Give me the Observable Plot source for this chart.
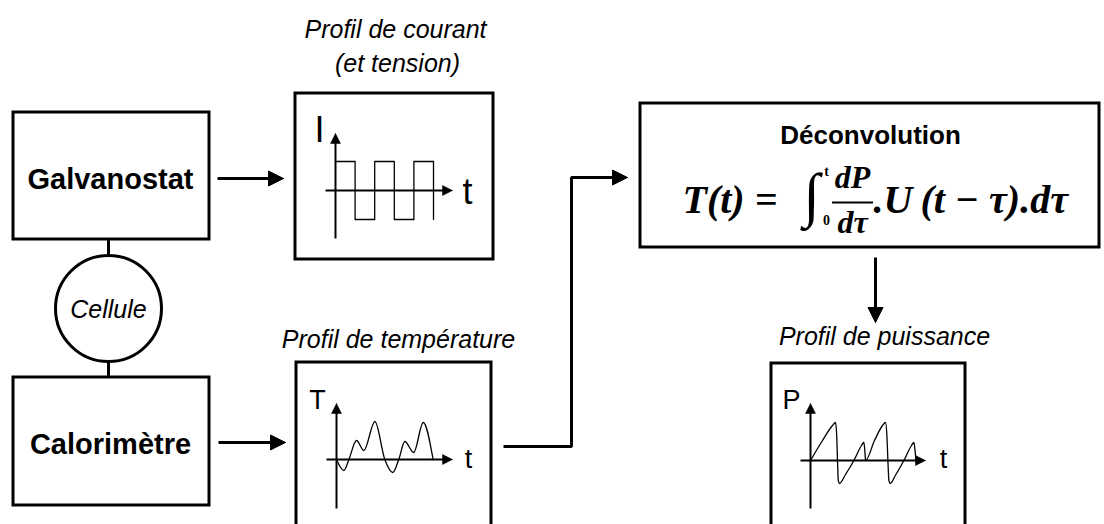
<!DOCTYPE html>
<html><head><meta charset="utf-8">
<script src="https://cdn.jsdelivr.net/npm/d3@7"></script>
<script src="https://cdn.jsdelivr.net/npm/@observablehq/plot@0.6"></script>
<style>
html,body{margin:0;padding:0;background:#fff;overflow:hidden}
#chart svg{display:block}
</style></head>
<body><div id="chart"></div>
<script>
// ---------------- data ----------------
const blockLabels = ["Galvanostat", "Calorimètre"];
const cellLabel = "Cellule";
const panelTitles = ["Profil de courant", "(et tension)", "Profil de température", "Profil de puissance"];
const deconvTitle = "Déconvolution";
const axisNames = [["I", "t"], ["T", "t"], ["P", "t"]];

// current (square wave): switching times and levels
const currentTimes = [0, 1, 2, 3, 4, 5];
const currentLevels = [1, -1, 1, -1, 1, -1];

// temperature response
const tempTimes  = [0, 0.38, 0.64, 1.03, 1.41, 1.98, 2.49, 2.90, 3.21, 3.52, 3.98, 4.47, 4.98];
const tempValues = [0, -1.1, 0, 1.9, 0.9, 3.8, 0, -1.3, 0, 1.8, 0.7, 3.7, 0];

// power profile
const powerTimes  = [0, 0.6, 1.1, 1.25, 1.31, 1.35, 1.39, 1.45, 1.75, 2.17, 2.55, 2.67, 2.72, 2.75,
                     3.2, 3.6, 3.75, 3.82, 3.87, 3.92, 3.98, 4.27, 4.67, 5.05, 5.17, 5.23, 5.28];
const powerValues = [0, 2.0, 3.5, 3.8, 2.5, 0, -2.0, -2.3, -1.4, 0, 1.5, 1.8, 0.9, 0,
                     2.0, 3.5, 3.8, 2.5, 0, -2.0, -2.3, -1.4, 0, 1.5, 1.8, 0.9, 0];

// ---------------- layout ----------------
const boxes = [
  {id: "galva",   x1: 13,  y1: 112, x2: 209,  y2: 239},
  {id: "calo",    x1: 13,  y1: 377, x2: 209,  y2: 505},
  {id: "current", x1: 295, y1: 93,  x2: 493,  y2: 259},
  {id: "temp",    x1: 296, y1: 362, x2: 491,  y2: 534},
  {id: "deconv",  x1: 640, y1: 103, x2: 1099, y2: 247},
  {id: "power",   x1: 771, y1: 363, x2: 965,  y2: 534}
];
const cell = {x: 108, y: 308, r: 53};
const stem = {x: 108, y1: 239, y2: 377};

const panels = [
  {ox: 335, oy: 190, sx: 19.6, sy: 29, ax: [325, 452], ay: [238, 133], size: 36, lx: 319, ly: 141, tx: 467, ty: 203},
  {ox: 336, oy: 459, sx: 19.4, sy: 10, ax: [326, 452], ay: [508, 403], size: 27, lx: 317, ly: 408, tx: 468, ty: 467},
  {ox: 810, oy: 460, sx: 20,   sy: 10, ax: [800, 925], ay: [508, 403], size: 27, lx: 791, ly: 408, tx: 943, ty: 467}
];

const flows = [
  [[217, 178], [283, 178]],
  [[218, 442], [285, 442]],
  [[503, 446], [571, 446], [571, 177], [627, 177]],
  [[875, 257], [875, 322]]
];

// ---------------- helpers ----------------
function headPoly(id, tip, prev, len, half) {
  const dx = tip[0] - prev[0], dy = tip[1] - prev[1];
  const L = Math.hypot(dx, dy), ux = dx / L, uy = dy / L;
  const bx = tip[0] - ux * len, by = tip[1] - uy * len;
  const px = -uy, py = ux;
  return [
    {id, x: tip[0], y: tip[1]},
    {id, x: bx + px * half, y: by + py * half},
    {id, x: bx - px * half, y: by - py * half},
    {id, x: tip[0], y: tip[1]}
  ];
}
function shaft(id, pts, len) {
  const n = pts.length, tip = pts[n - 1], prev = pts[n - 2];
  const dx = tip[0] - prev[0], dy = tip[1] - prev[1];
  const L = Math.hypot(dx, dy);
  const end = [tip[0] - dx / L * (len - 2), tip[1] - dy / L * (len - 2)];
  return pts.slice(0, n - 1).concat([end]).map(([x, y]) => ({id, x, y}));
}

const flowLines = flows.flatMap((p, i) => shaft("f" + i, p, 15));
const flowHeads = flows.flatMap((p, i) => headPoly("h" + i, p[p.length - 1], p[p.length - 2], 15, 7.5));

const axisLines = panels.flatMap((p, i) => [
  [{id: "ax" + i, x: p.ax[0], y: p.oy}, {id: "ax" + i, x: p.ax[1] - 8, y: p.oy}],
  [{id: "ay" + i, x: p.ox, y: p.ay[0]}, {id: "ay" + i, x: p.ox, y: p.ay[1] + 8}]
]).flat();
const axisHeads = panels.flatMap((p, i) => [
  ...headPoly("hx" + i, [p.ax[1], p.oy], [p.ax[0], p.oy], 10, 5),
  ...headPoly("hy" + i, [p.ox, p.ay[1]], [p.ox, p.ay[0]], 10, 5)
]);

const currentData = currentTimes.map((t, i) => ({t, v: currentLevels[i]}));
const tempData = tempTimes.map((t, i) => ({t, v: tempValues[i]}));
const powerData = powerTimes.map((t, i) => ({t, v: powerValues[i]}));

const signal = (data, p, curve) => Plot.line(data, {
  x: d => p.ox + d.t * p.sx, y: d => p.oy - d.v * p.sy,
  curve, stroke: "black", strokeWidth: 1.3
});

const sans = "Liberation Sans, Arial, Helvetica, sans-serif";
const serif = "Liberation Serif, Times New Roman, serif";

const axisText = panels.flatMap((p, i) => [
  {text: axisNames[i][0], x: p.lx, y: p.ly, size: p.size},
  {text: axisNames[i][1], x: p.tx, y: p.ty, size: p.size}
]);

const titles = [
  {text: panelTitles[0], x: 395, y: 37},
  {text: panelTitles[1], x: 397, y: 71},
  {text: panelTitles[2], x: 398, y: 347},
  {text: panelTitles[3], x: 884, y: 344}
];
const blockText = [
  {text: blockLabels[0], x: 110, y: 188},
  {text: blockLabels[1], x: 110, y: 453}
];

// formula pieces
const formulaMain = [
  {text: "T(t) =", x: 682, y: 212},
  {text: ".U\u2009(t − τ).dτ", x: 873, y: 212}
];
const formulaFrac = [
  {text: "dP", x: 852, y: 187},
  {text: "dτ", x: 852, y: 232}
];
const fracBar = [{x1: 832, x2: 873, y: 202}];
const integral = [{text: "∫", x: 811, y: 214}];
const limits = [
  {text: "t", x: 826, y: 175, s: "italic"},
  {text: "0", x: 826, y: 224, s: "normal"}
];

const chart = Plot.plot({
  width: 1104, height: 524,
  margin: 0,
  x: {domain: [0, 1104], axis: null},
  y: {domain: [524, 0], axis: null},
  style: {background: "white"},
  marks: [
    // stem between boxes and circle
    Plot.ruleX([stem], {x: "x", y1: "y1", y2: "y2", stroke: "black", strokeWidth: 3}),
    Plot.rect(boxes, {x1: "x1", x2: "x2", y1: "y1", y2: "y2", fill: "white", stroke: "black", strokeWidth: 3}),
    Plot.dot([cell], {x: "x", y: "y", r: cell.r, fill: "white", stroke: "black", strokeWidth: 3}),
    // flow arrows
    Plot.line(flowLines, {x: "x", y: "y", z: "id", stroke: "black", strokeWidth: 3, strokeLinecap: "butt", strokeLinejoin: "miter"}),
    Plot.line(flowHeads, {x: "x", y: "y", z: "id", fill: "black", stroke: "black", strokeWidth: 1}),
    // mini axes
    Plot.line(axisLines, {x: "x", y: "y", z: "id", stroke: "black", strokeWidth: 2, strokeLinecap: "butt"}),
    Plot.line(axisHeads, {x: "x", y: "y", z: "id", fill: "black", stroke: "black", strokeWidth: 0.5}),
    // signals
    signal(currentData, panels[0], "step-after"),
    signal(tempData, panels[1], "monotone-x"),
    signal(powerData, panels[2], "monotone-x"),
    // texts
    Plot.text(axisText, {x: "x", y: "y", text: "text", fontSize: d => d.size, fontFamily: sans, lineAnchor: "bottom", fill: "black"}),
    Plot.text(titles, {x: "x", y: "y", text: "text", fontSize: 25, fontStyle: "italic", fontFamily: sans, lineAnchor: "bottom", fill: "black"}),
    Plot.text(blockText, {x: "x", y: "y", text: "text", fontSize: 29, fontWeight: "bold", fontFamily: sans, lineAnchor: "bottom", fill: "black"}),
    Plot.text([cell], {x: "x", y: d => d.y + 9, text: () => cellLabel, fontSize: 25, fontStyle: "italic", fontFamily: sans, lineAnchor: "bottom", fill: "black"}),
    Plot.text([{x: 870, y: 143}], {x: "x", y: "y", text: () => deconvTitle, fontSize: 26, fontWeight: "bold", fontFamily: sans, lineAnchor: "bottom", fill: "black"}),
    Plot.text(formulaMain, {x: "x", y: "y", text: "text", fontSize: 40, fontWeight: "bold", fontStyle: "italic", fontFamily: serif, textAnchor: "start", lineAnchor: "bottom", fill: "black"}),
    Plot.text(formulaFrac, {x: "x", y: "y", text: "text", fontSize: 32, fontWeight: "bold", fontStyle: "italic", fontFamily: serif, lineAnchor: "bottom", fill: "black"}),
    Plot.ruleY(fracBar, {x1: "x1", x2: "x2", y: "y", stroke: "black", strokeWidth: 2}),
    Plot.text(integral, {x: "x", y: "y", text: "text", fontSize: 60, fontWeight: "bold", fontFamily: serif, lineAnchor: "bottom", fill: "black"}),
    Plot.text(limits, {x: "x", y: "y", text: "text", fontSize: 14, fontWeight: "bold", fontStyle: d => d.s, fontFamily: serif, lineAnchor: "bottom", fill: "black"})
  ]
});
document.getElementById("chart").append(chart);
</script>
</body></html>
